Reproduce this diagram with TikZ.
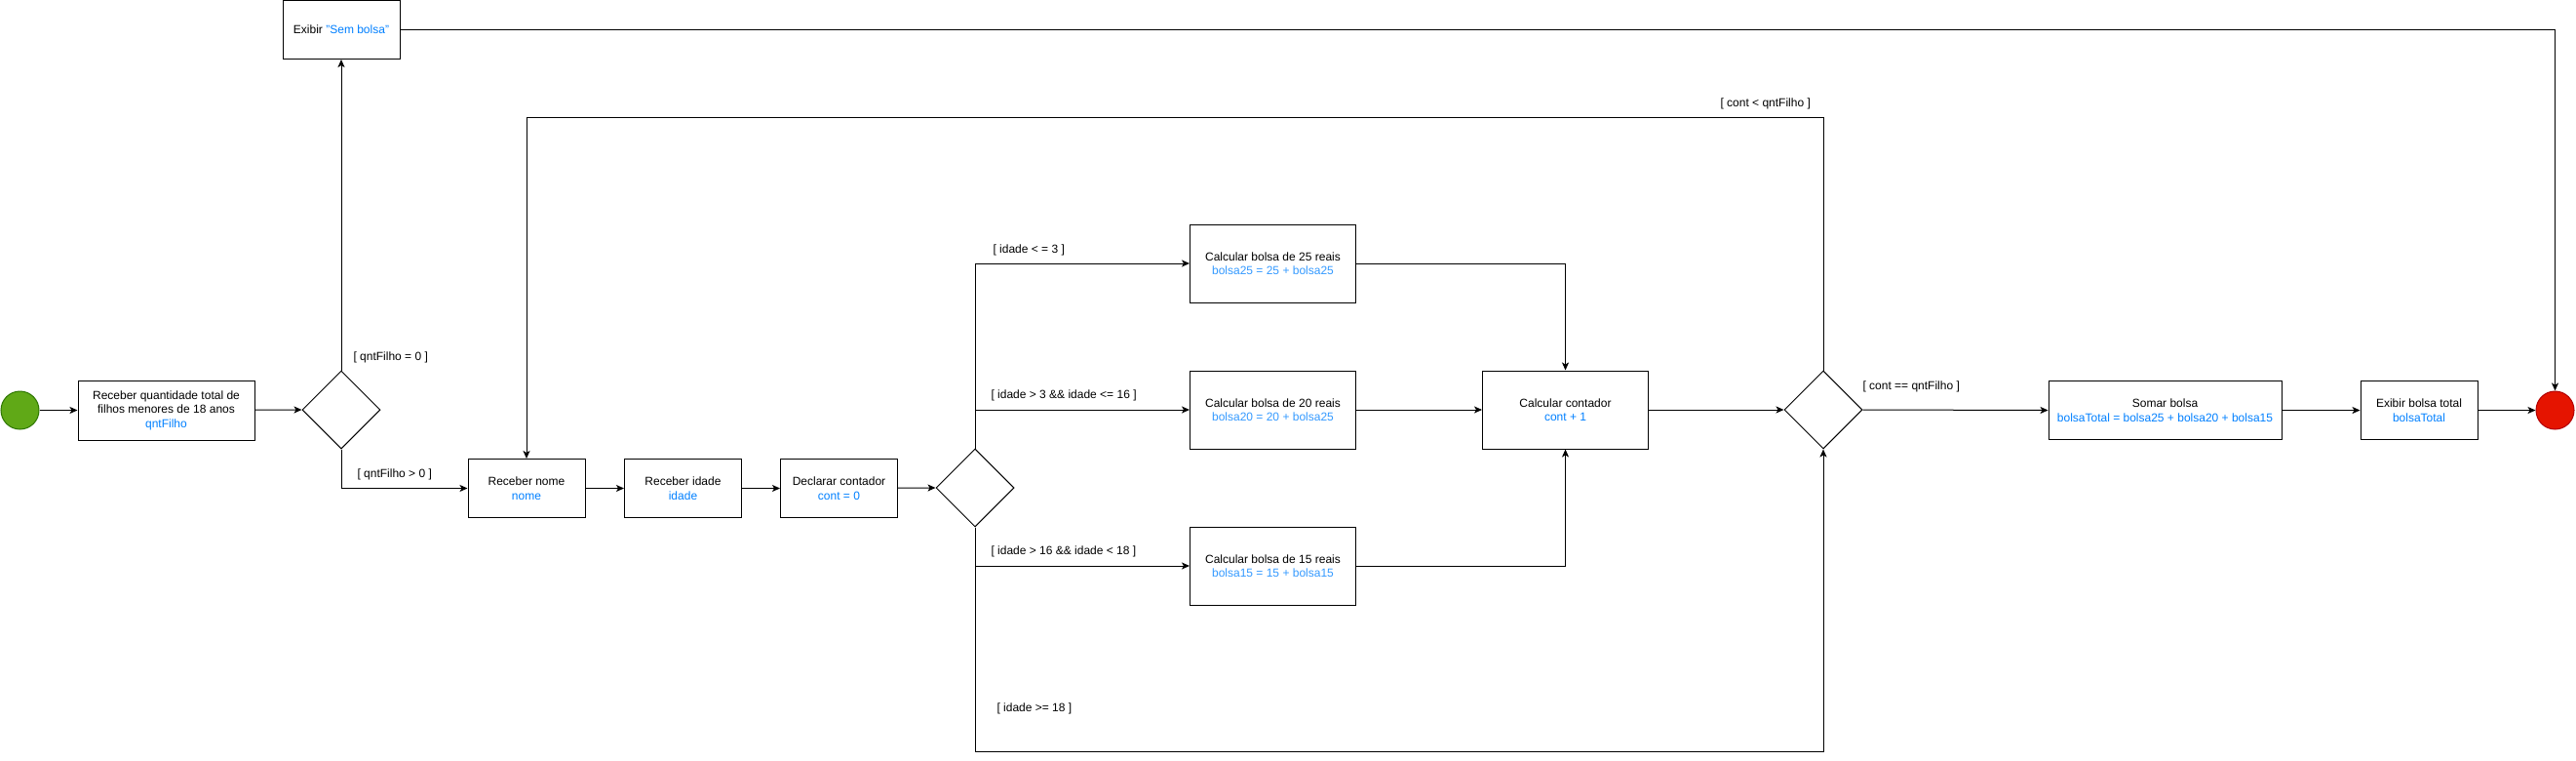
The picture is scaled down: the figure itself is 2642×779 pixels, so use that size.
\documentclass[tikz,border=0pt]{standalone}
\usepackage{fontspec}
\setmainfont{Liberation Sans}
\usetikzlibrary{shapes.geometric,arrows.meta}
\definecolor{blu}{RGB}{0,127,255}
\definecolor{blub}{RGB}{51,153,255}
\definecolor{startfill}{RGB}{96,169,23}
\definecolor{startdraw}{RGB}{45,118,0}
\definecolor{endfill}{RGB}{229,20,0}
\definecolor{enddraw}{RGB}{178,0,0}
\tikzset{
  act/.style={draw, rectangle, inner sep=0pt, align=center, font=\fontsize{12}{14.5}\selectfont},
  dec/.style={draw, diamond, aspect=1, inner sep=0pt, minimum width=80pt, minimum height=80pt},
  flow/.style={-{Stealth[length=8pt,width=7pt,inset=2pt]}},
  guard/.style={anchor=west, inner sep=0pt, font=\fontsize{12}{14.5}\selectfont},
}
\begin{document}
\begin{tikzpicture}[x=1pt,y=-1pt,line width=1pt]
\useasboundingbox (0,0) rectangle (2642,779);

\node[circle, draw=startdraw, fill=startfill, minimum size=39pt, inner sep=0pt] (start) at (20.5,420.5) {};
\node[act, minimum width=181pt, minimum height=61pt] (b1) at (170.5,420.5) {Receber quantidade total de\\filhos menores de 18 anos\\\textcolor{blu}{qntFilho}};
\node[dec] (d1) at (350,420) {};
\node[act, minimum width=120pt, minimum height=60pt] (sem) at (350,30.5) {Exibir \textcolor{blu}{"Sem bolsa"}};
\node[act, minimum width=120pt, minimum height=60pt] (nome) at (540,500.5) {Receber nome\\\textcolor{blu}{nome}};
\node[act, minimum width=120pt, minimum height=60pt] (idade) at (700.5,500.5) {Receber idade\\\textcolor{blu}{idade}};
\node[act, minimum width=120pt, minimum height=60pt] (decl) at (860.5,500.5) {Declarar contador\\\textcolor{blu}{cont = 0}};
\node[dec] (d2) at (1000,500) {};
\node[act, minimum width=170pt, minimum height=80pt] (c25) at (1305.5,270) {Calcular bolsa de 25 reais\\\textcolor{blub}{bolsa25 = 25 + bolsa25}};
\node[act, minimum width=170pt, minimum height=80pt] (c20) at (1305.5,420) {Calcular bolsa de 20 reais\\\textcolor{blub}{bolsa20 = 20 + bolsa25}};
\node[act, minimum width=170pt, minimum height=80pt] (c15) at (1305.5,580) {Calcular bolsa de 15 reais\\\textcolor{blub}{bolsa15 = 15 + bolsa15}};
\node[act, minimum width=170pt, minimum height=80pt] (cont) at (1605.5,420) {Calcular contador\\\textcolor{blu}{cont + 1}};
\node[dec] (d3) at (1870,420) {};
\node[act, minimum width=239pt, minimum height=60pt] (soma) at (2220.5,420.5) {Somar bolsa\\\textcolor{blu}{bolsaTotal = bolsa25 + bolsa20 + bolsa15}};
\node[act, minimum width=120pt, minimum height=60pt] (exib) at (2481,420.5) {Exibir bolsa total\\\textcolor{blu}{bolsaTotal}};
\node[circle, draw=enddraw, fill=endfill, minimum size=39pt, inner sep=0pt] (end) at (2620.5,420.5) {};

\coordinate (bot) at (1000,770);
\coordinate (lt) at (1870,120.5);

\draw[flow] (start) -- (b1);
\draw[flow] (b1) -- (d1.west);
\draw[flow] (d1.north) -- (sem.south);
\draw[flow] (d1.south) |- (nome.west);
\draw[flow] (sem.east) -| (end.north);
\draw[flow] (nome) -- (idade);
\draw[flow] (idade) -- (decl);
\draw[flow] (decl) -- (d2.west);
\draw[flow] (d2.north) |- (c25.west);
\draw[flow] (d2.north) |- (c20.west);
\draw[flow] (d2.south) |- (c15.west);
\draw[flow] (d2.south) -- (bot) -| (d3.south);
\draw[flow] (c25.east) -| (cont.north);
\draw[flow] (c20.east) -- (cont.west);
\draw[flow] (c15.east) -| (cont.south);
\draw[flow] (cont.east) -- (d3.west);
\draw[flow] (d3.north) -- (lt) -| (nome.north);
\draw[flow] (d3.east) -- (soma.west);
\draw[flow] (soma) -- (exib);
\draw[flow] (exib) -- (end);

\node[guard] (g1) at (362,366) {[ qntFilho = 0 ]};
\node[guard] (g2) at (366,486) {[ qntFilho > 0 ]};
\node[guard] (g3) at (1018,256) {[ idade < = 3 ]};
\node[guard] (g4) at (1016,405) {[ idade > 3 \&\& idade <= 16 ]};
\node[guard] (g5) at (1016,565) {[ idade > 16 \&\& idade < 18 ]};
\node[guard] (g6) at (1022,726) {[ idade >= 18 ]};
\node[guard] (g7) at (1764,106) {[ cont < qntFilho ]};
\node[guard] (g8) at (1910,396) {[ cont == qntFilho ]};
\end{tikzpicture}
\end{document}
